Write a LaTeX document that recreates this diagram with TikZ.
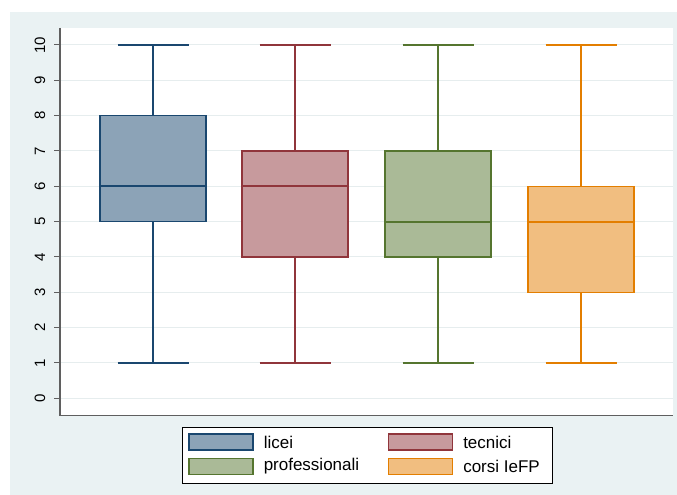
\documentclass[tikz,border=0pt]{standalone}
\usepackage{fontspec}
\setmainfont{Liberation Sans}
\usetikzlibrary{positioning}
\definecolor{bgout}{RGB}{234,242,243}
\definecolor{gridc}{RGB}{230,237,238}
\definecolor{axisc}{RGB}{95,95,95}
\definecolor{cnavy}{RGB}{26,71,111}
\definecolor{cmaroon}{RGB}{144,53,59}
\definecolor{cgreen}{RGB}{85,117,47}
\definecolor{corange}{RGB}{227,126,0}
\tikzset{
	box/.style = {line width = 1.1pt, fill = #1!50, draw = #1},
	whisker/.style = {line width = 1.1pt, draw = #1},
	medianline/.style = {line width = 1.8pt, draw = #1},
	gridline/.style = {draw = gridc, line width = 1pt},
	axis/.style = {draw = axisc, line width = 1.5pt},
	ticklabel/.style = {rotate = 90, font = \fontsize{15}{17}\selectfont, inner sep = 0pt},
	swatch/.style = {rectangle, line width = 1.1pt, fill = #1!50, draw = #1, minimum width = 64pt, minimum height = 16pt, inner sep = 0pt},
	legtext/.style = {anchor = west, font = \fontsize{17}{20}\selectfont, inner sep = 0pt},
	legframe/.style = {draw = black, line width = 0.8pt, fill = white}
}

\begin{document}
\begin{tikzpicture}[x = 1pt, y = -1pt]
	\useasboundingbox (0,0) rectangle (677,495);
	
	%% background
	\fill[white] (0,0) rectangle (677,495);
	\fill[bgout] (10,12) rectangle (677,495);
	\fill[white] (60,28) rectangle (673,415);
	
	%% plot region
	\begin{scope}[shift = {(0,398.3)}, y = 35.33pt]
		\foreach \v in {0,...,10} {
			\draw[gridline] (60,\v) -- (673,\v);
			\draw[axis, line width = 1pt] (54,\v) -- (60,\v);
			\node (tick\v) [ticklabel] at (40,\v) {\v};
		}
		% boxes
		\foreach \name/\cx/\lo/\qa/\qm/\qb/\hi/\col in {
			licei/153/1/5/6/8/10/cnavy,
			tecnici/295/1/4/6/7/10/cmaroon,
			professionali/438/1/4/5/7/10/cgreen,
			corsi/581/1/3/5/6/10/corange} {
			\draw[whisker = \col] (\cx,\qa) -- (\cx,\lo);
			\draw[whisker = \col] (\cx,\qb) -- (\cx,\hi);
			\draw[whisker = \col] (\cx-35.5,\lo) -- (\cx+35.5,\lo);
			\draw[whisker = \col] (\cx-35.5,\hi) -- (\cx+35.5,\hi);
			\draw[box = \col] (\cx-53,\qa) rectangle (\cx+53,\qb);
			\draw[medianline = \col] (\cx-53,\qm) -- (\cx+53,\qm);
		}
	\end{scope}
	
	%% axes
	\draw[axis] (60,28) -- (60,415.7) -- (673,415.7);
	
	%% legend
	\draw[legframe] (182,427) rectangle (552,483);
	\node (swlicei) [swatch = cnavy] at (221,442) {};
	\node (swtecnici) [swatch = cmaroon] at (420.5,442) {};
	\node (swprof) [swatch = cgreen] at (221,466.5) {};
	\node (swcorsi) [swatch = corange] at (420.5,466.5) {};
	\node (txtlicei) [legtext, right = 10pt of swlicei] {licei};
	\node (txttecnici) [legtext, right = 10pt of swtecnici] {tecnici};
	\node (txtprof) [legtext, right = 10pt of swprof] {professionali};
	\node (txtcorsi) [legtext, right = 10pt of swcorsi] {corsi IeFP};
\end{tikzpicture}
\end{document}
